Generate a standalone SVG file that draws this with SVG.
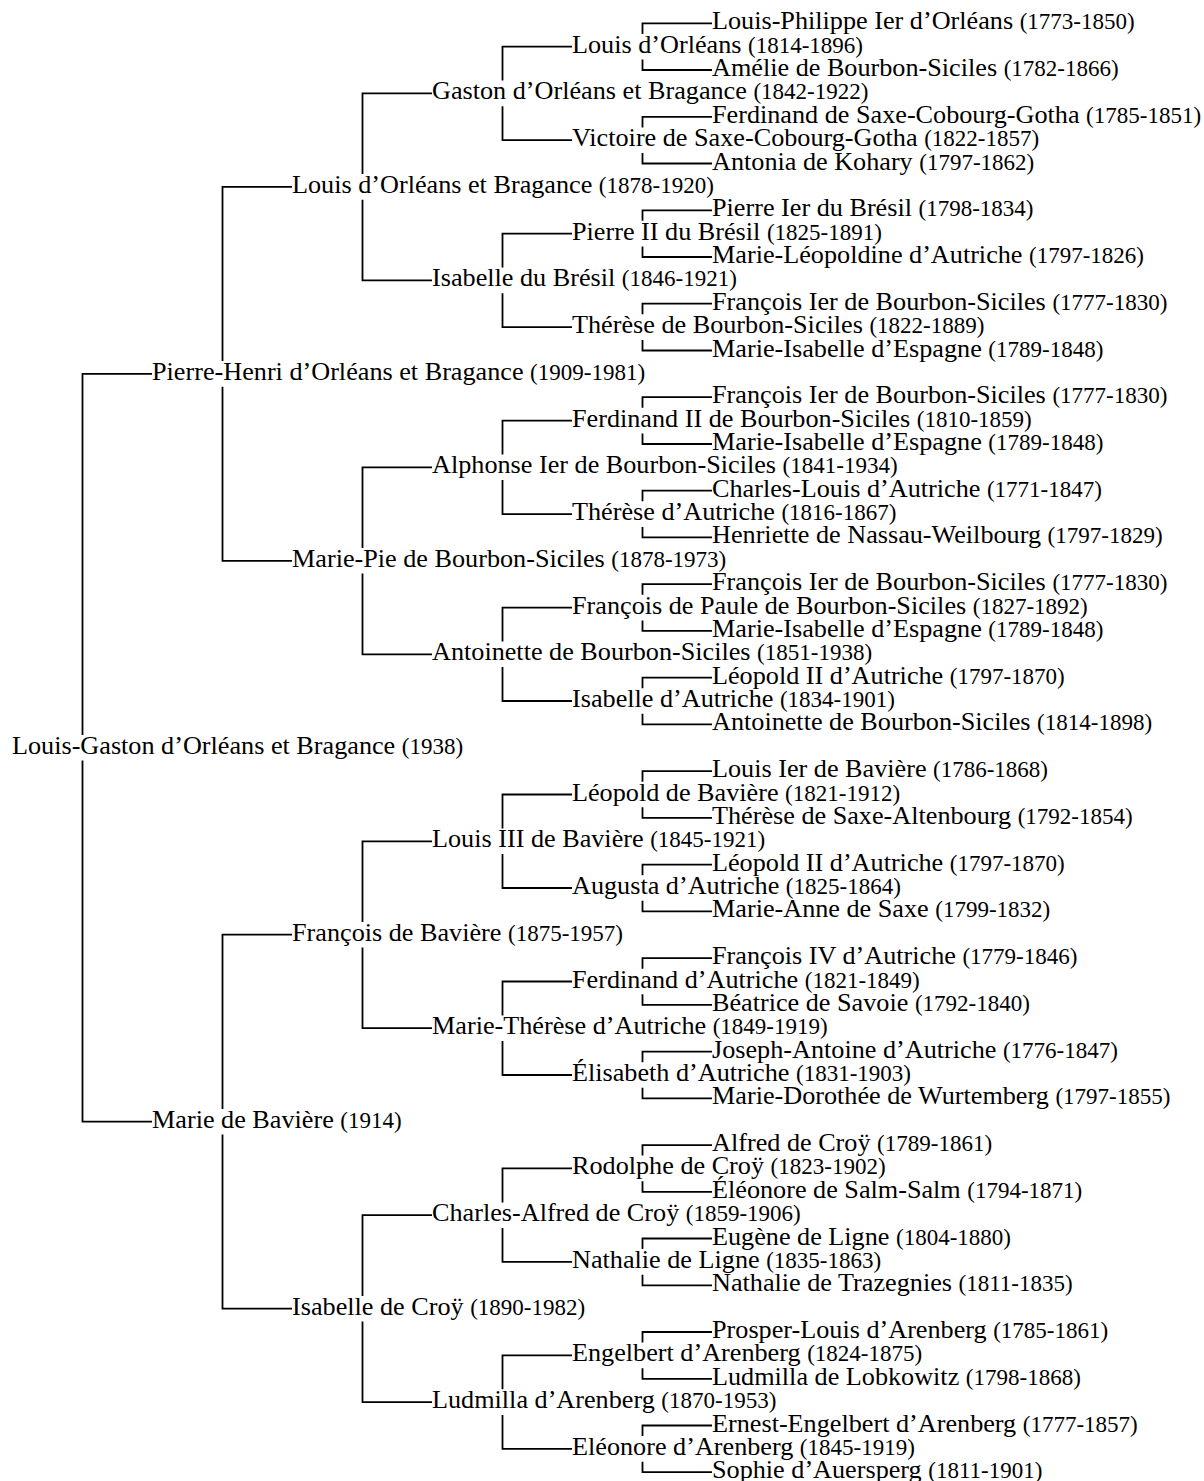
<svg xmlns="http://www.w3.org/2000/svg" width="1204" height="1481" viewBox="0 0 1204 1481">
<style>
.e{fill:none;stroke:#000;stroke-width:1.8;stroke-linejoin:miter}
text{font-family:"Liberation Serif","Times New Roman",serif;font-size:26.2px;fill:#000}
.d{font-size:23px}
</style>
<rect width="1204" height="1481" fill="#fff"/>
<g id="connectors">
<path class="e" d="M82.5 735 V373.9 H152"/>
<path class="e" d="M82.5 760.6 V1121.7 H152"/>
<path class="e" d="M222.5 361.1 V186.9 H292"/>
<path class="e" d="M222.5 386.7 V560.8 H292"/>
<path class="e" d="M222.5 1108.9 V934.7 H292"/>
<path class="e" d="M222.5 1134.5 V1308.7 H292"/>
<path class="e" d="M362.5 174.1 V93.4 H432"/>
<path class="e" d="M362.5 199.7 V280.4 H432"/>
<path class="e" d="M362.5 548 V467.3 H432"/>
<path class="e" d="M362.5 573.6 V654.3 H432"/>
<path class="e" d="M362.5 921.9 V841.3 H432"/>
<path class="e" d="M362.5 947.5 V1028.2 H432"/>
<path class="e" d="M362.5 1295.9 V1215.2 H432"/>
<path class="e" d="M362.5 1321.5 V1402.1 H432"/>
<path class="e" d="M502.5 80.6 V46.7 H572"/>
<path class="e" d="M502.5 106.2 V140.2 H572"/>
<path class="e" d="M502.5 267.6 V233.6 H572"/>
<path class="e" d="M502.5 293.2 V327.1 H572"/>
<path class="e" d="M502.5 454.5 V420.6 H572"/>
<path class="e" d="M502.5 480.1 V514.1 H572"/>
<path class="e" d="M502.5 641.5 V607.6 H572"/>
<path class="e" d="M502.5 667.1 V701 H572"/>
<path class="e" d="M502.5 828.5 V794.5 H572"/>
<path class="e" d="M502.5 854.1 V888 H572"/>
<path class="e" d="M502.5 1015.4 V981.5 H572"/>
<path class="e" d="M502.5 1041 V1075 H572"/>
<path class="e" d="M502.5 1202.4 V1168.4 H572"/>
<path class="e" d="M502.5 1228 V1261.9 H572"/>
<path class="e" d="M502.5 1389.3 V1355.4 H572"/>
<path class="e" d="M502.5 1414.9 V1448.9 H572"/>
<path class="e" d="M642.5 33.9 V23.3 H712"/>
<path class="e" d="M642.5 59.5 V70 H712"/>
<path class="e" d="M642.5 127.4 V116.8 H712"/>
<path class="e" d="M642.5 153 V163.5 H712"/>
<path class="e" d="M642.5 220.8 V210.3 H712"/>
<path class="e" d="M642.5 246.4 V257 H712"/>
<path class="e" d="M642.5 314.3 V303.7 H712"/>
<path class="e" d="M642.5 339.9 V350.5 H712"/>
<path class="e" d="M642.5 407.8 V397.2 H712"/>
<path class="e" d="M642.5 433.4 V444 H712"/>
<path class="e" d="M642.5 501.3 V490.7 H712"/>
<path class="e" d="M642.5 526.9 V537.4 H712"/>
<path class="e" d="M642.5 594.8 V584.2 H712"/>
<path class="e" d="M642.5 620.4 V630.9 H712"/>
<path class="e" d="M642.5 688.2 V677.7 H712"/>
<path class="e" d="M642.5 713.8 V724.4 H712"/>
<path class="e" d="M642.5 781.7 V771.1 H712"/>
<path class="e" d="M642.5 807.3 V817.9 H712"/>
<path class="e" d="M642.5 875.2 V864.6 H712"/>
<path class="e" d="M642.5 900.8 V911.4 H712"/>
<path class="e" d="M642.5 968.7 V958.1 H712"/>
<path class="e" d="M642.5 994.3 V1004.8 H712"/>
<path class="e" d="M642.5 1062.2 V1051.6 H712"/>
<path class="e" d="M642.5 1087.8 V1098.3 H712"/>
<path class="e" d="M642.5 1155.6 V1145.1 H712"/>
<path class="e" d="M642.5 1181.2 V1191.8 H712"/>
<path class="e" d="M642.5 1249.1 V1238.5 H712"/>
<path class="e" d="M642.5 1274.7 V1285.3 H712"/>
<path class="e" d="M642.5 1342.6 V1332 H712"/>
<path class="e" d="M642.5 1368.2 V1378.8 H712"/>
<path class="e" d="M642.5 1436.1 V1425.5 H712"/>
<path class="e" d="M642.5 1461.7 V1472.2 H712"/>
</g>
<g id="n1"><text x="712" y="29.3">Louis-Philippe Ier d’Orléans <tspan class="d">(1773-1850)</tspan></text></g>
<g id="n2"><text x="572" y="52.7">Louis d’Orléans <tspan class="d">(1814-1896)</tspan></text></g>
<g id="n3"><text x="712" y="76">Amélie de Bourbon-Siciles <tspan class="d">(1782-1866)</tspan></text></g>
<g id="n4"><text x="432" y="99.4">Gaston d’Orléans et Bragance <tspan class="d">(1842-1922)</tspan></text></g>
<g id="n5"><text x="712" y="122.8">Ferdinand de Saxe-Cobourg-Gotha <tspan class="d">(1785-1851)</tspan></text></g>
<g id="n6"><text x="572" y="146.2">Victoire de Saxe-Cobourg-Gotha <tspan class="d">(1822-1857)</tspan></text></g>
<g id="n7"><text x="712" y="169.5">Antonia de Kohary <tspan class="d">(1797-1862)</tspan></text></g>
<g id="n8"><text x="292" y="192.9">Louis d’Orléans et Bragance <tspan class="d">(1878-1920)</tspan></text></g>
<g id="n9"><text x="712" y="216.3">Pierre Ier du Brésil <tspan class="d">(1798-1834)</tspan></text></g>
<g id="n10"><text x="572" y="239.6">Pierre II du Brésil <tspan class="d">(1825-1891)</tspan></text></g>
<g id="n11"><text x="712" y="263">Marie-Léopoldine d’Autriche <tspan class="d">(1797-1826)</tspan></text></g>
<g id="n12"><text x="432" y="286.4">Isabelle du Brésil <tspan class="d">(1846-1921)</tspan></text></g>
<g id="n13"><text x="712" y="309.7">François Ier de Bourbon-Siciles <tspan class="d">(1777-1830)</tspan></text></g>
<g id="n14"><text x="572" y="333.1">Thérèse de Bourbon-Siciles <tspan class="d">(1822-1889)</tspan></text></g>
<g id="n15"><text x="712" y="356.5">Marie-Isabelle d’Espagne <tspan class="d">(1789-1848)</tspan></text></g>
<g id="n16"><text x="152" y="379.9">Pierre-Henri d’Orléans et Bragance <tspan class="d">(1909-1981)</tspan></text></g>
<g id="n17"><text x="712" y="403.2">François Ier de Bourbon-Siciles <tspan class="d">(1777-1830)</tspan></text></g>
<g id="n18"><text x="572" y="426.6">Ferdinand II de Bourbon-Siciles <tspan class="d">(1810-1859)</tspan></text></g>
<g id="n19"><text x="712" y="450">Marie-Isabelle d’Espagne <tspan class="d">(1789-1848)</tspan></text></g>
<g id="n20"><text x="432" y="473.3">Alphonse Ier de Bourbon-Siciles <tspan class="d">(1841-1934)</tspan></text></g>
<g id="n21"><text x="712" y="496.7">Charles-Louis d’Autriche <tspan class="d">(1771-1847)</tspan></text></g>
<g id="n22"><text x="572" y="520.1">Thérèse d’Autriche <tspan class="d">(1816-1867)</tspan></text></g>
<g id="n23"><text x="712" y="543.4">Henriette de Nassau-Weilbourg <tspan class="d">(1797-1829)</tspan></text></g>
<g id="n24"><text x="292" y="566.8">Marie-Pie de Bourbon-Siciles <tspan class="d">(1878-1973)</tspan></text></g>
<g id="n25"><text x="712" y="590.2">François Ier de Bourbon-Siciles <tspan class="d">(1777-1830)</tspan></text></g>
<g id="n26"><text x="572" y="613.6">François de Paule de Bourbon-Siciles <tspan class="d">(1827-1892)</tspan></text></g>
<g id="n27"><text x="712" y="636.9">Marie-Isabelle d’Espagne <tspan class="d">(1789-1848)</tspan></text></g>
<g id="n28"><text x="432" y="660.3">Antoinette de Bourbon-Siciles <tspan class="d">(1851-1938)</tspan></text></g>
<g id="n29"><text x="712" y="683.7">Léopold II d’Autriche <tspan class="d">(1797-1870)</tspan></text></g>
<g id="n30"><text x="572" y="707">Isabelle d’Autriche <tspan class="d">(1834-1901)</tspan></text></g>
<g id="n31"><text x="712" y="730.4">Antoinette de Bourbon-Siciles <tspan class="d">(1814-1898)</tspan></text></g>
<g id="n32"><text x="12" y="753.8">Louis-Gaston d’Orléans et Bragance <tspan class="d">(1938)</tspan></text></g>
<g id="n33"><text x="712" y="777.1">Louis Ier de Bavière <tspan class="d">(1786-1868)</tspan></text></g>
<g id="n34"><text x="572" y="800.5">Léopold de Bavière <tspan class="d">(1821-1912)</tspan></text></g>
<g id="n35"><text x="712" y="823.9">Thérèse de Saxe-Altenbourg <tspan class="d">(1792-1854)</tspan></text></g>
<g id="n36"><text x="432" y="847.3">Louis III de Bavière <tspan class="d">(1845-1921)</tspan></text></g>
<g id="n37"><text x="712" y="870.6">Léopold II d’Autriche <tspan class="d">(1797-1870)</tspan></text></g>
<g id="n38"><text x="572" y="894">Augusta d’Autriche <tspan class="d">(1825-1864)</tspan></text></g>
<g id="n39"><text x="712" y="917.4">Marie-Anne de Saxe <tspan class="d">(1799-1832)</tspan></text></g>
<g id="n40"><text x="292" y="940.7">François de Bavière <tspan class="d">(1875-1957)</tspan></text></g>
<g id="n41"><text x="712" y="964.1">François IV d’Autriche <tspan class="d">(1779-1846)</tspan></text></g>
<g id="n42"><text x="572" y="987.5">Ferdinand d’Autriche <tspan class="d">(1821-1849)</tspan></text></g>
<g id="n43"><text x="712" y="1010.8">Béatrice de Savoie <tspan class="d">(1792-1840)</tspan></text></g>
<g id="n44"><text x="432" y="1034.2">Marie-Thérèse d’Autriche <tspan class="d">(1849-1919)</tspan></text></g>
<g id="n45"><text x="712" y="1057.6">Joseph-Antoine d’Autriche <tspan class="d">(1776-1847)</tspan></text></g>
<g id="n46"><text x="572" y="1081">Élisabeth d’Autriche <tspan class="d">(1831-1903)</tspan></text></g>
<g id="n47"><text x="712" y="1104.3">Marie-Dorothée de Wurtemberg <tspan class="d">(1797-1855)</tspan></text></g>
<g id="n48"><text x="152" y="1127.7">Marie de Bavière <tspan class="d">(1914)</tspan></text></g>
<g id="n49"><text x="712" y="1151.1">Alfred de Croÿ <tspan class="d">(1789-1861)</tspan></text></g>
<g id="n50"><text x="572" y="1174.4">Rodolphe de Croÿ <tspan class="d">(1823-1902)</tspan></text></g>
<g id="n51"><text x="712" y="1197.8">Éléonore de Salm-Salm <tspan class="d">(1794-1871)</tspan></text></g>
<g id="n52"><text x="432" y="1221.2">Charles-Alfred de Croÿ <tspan class="d">(1859-1906)</tspan></text></g>
<g id="n53"><text x="712" y="1244.5">Eugène de Ligne <tspan class="d">(1804-1880)</tspan></text></g>
<g id="n54"><text x="572" y="1267.9">Nathalie de Ligne <tspan class="d">(1835-1863)</tspan></text></g>
<g id="n55"><text x="712" y="1291.3">Nathalie de Trazegnies <tspan class="d">(1811-1835)</tspan></text></g>
<g id="n56"><text x="292" y="1314.7">Isabelle de Croÿ <tspan class="d">(1890-1982)</tspan></text></g>
<g id="n57"><text x="712" y="1338">Prosper-Louis d’Arenberg <tspan class="d">(1785-1861)</tspan></text></g>
<g id="n58"><text x="572" y="1361.4">Engelbert d’Arenberg <tspan class="d">(1824-1875)</tspan></text></g>
<g id="n59"><text x="712" y="1384.8">Ludmilla de Lobkowitz <tspan class="d">(1798-1868)</tspan></text></g>
<g id="n60"><text x="432" y="1408.1">Ludmilla d’Arenberg <tspan class="d">(1870-1953)</tspan></text></g>
<g id="n61"><text x="712" y="1431.5">Ernest-Engelbert d’Arenberg <tspan class="d">(1777-1857)</tspan></text></g>
<g id="n62"><text x="572" y="1454.9">Eléonore d’Arenberg <tspan class="d">(1845-1919)</tspan></text></g>
<g id="n63"><text x="712" y="1478.2">Sophie d’Auersperg <tspan class="d">(1811-1901)</tspan></text></g>
</svg>
